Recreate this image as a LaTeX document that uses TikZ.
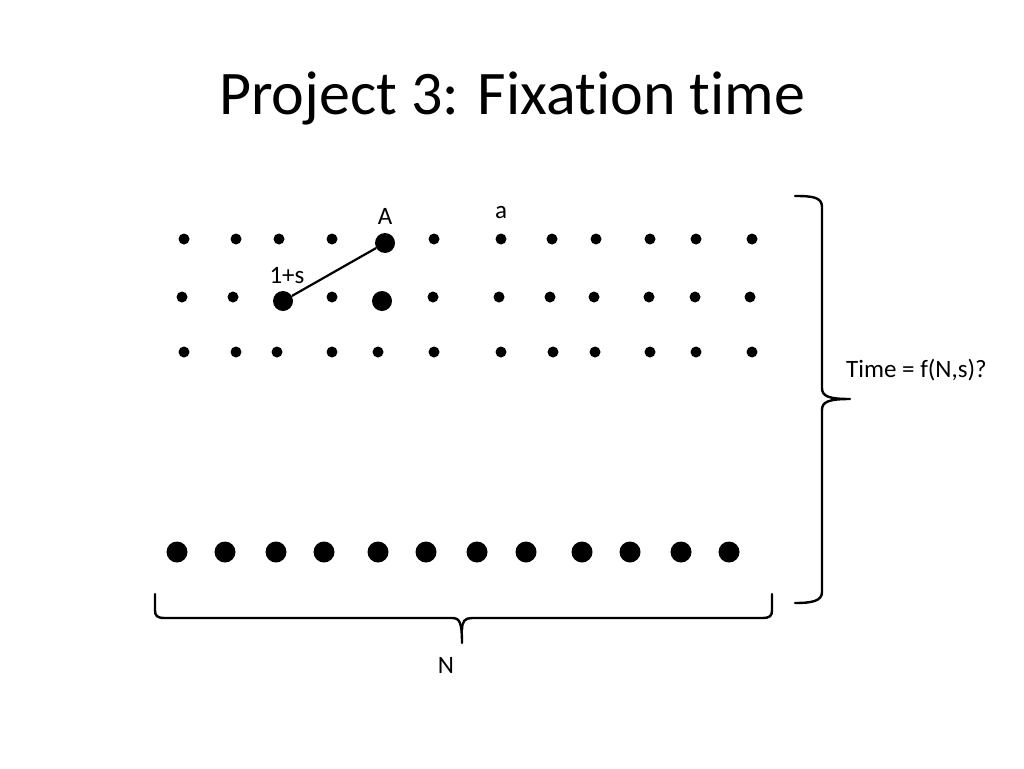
\documentclass[tikz,border=0pt]{standalone}
\usepackage{fontspec}
\setmainfont{Carlito}[Ligatures={NoCommon}]
\begin{document}
\begin{tikzpicture}[x=1pt,y=-1pt,
  sdot/.style={circle,fill=black,inner sep=0pt,minimum size=11pt},
  bdot/.style={circle,fill=black,inner sep=0pt,minimum size=20pt},
  lbl/.style={font=\fontsize{25}{29}\selectfont,inner sep=0pt},
  brace/.style={line width=2.4pt,line join=round,line cap=round}]
\useasboundingbox (0,0) rectangle (1024,768);
\node[font=\fontsize{62}{70}\selectfont,inner sep=0pt] (title) at (512,98) {Project 3: Fixation time};
% row 1
\foreach \x [count=\i] in {184,236,279,332,385,434,501,552,596,650,696,752}
  \node[sdot] (r1-\i) at (\x,239) {};
\node[bdot] (bigA) at (385,243) {};
% row 2
\foreach \x [count=\i] in {182,233,283,332,383,433,499,550,594,649,695,750}
  \node[sdot] (r2-\i) at (\x,297) {};
\node[bdot] (bigS) at (283,301) {};
\node[bdot] (bigB) at (382,301) {};
% row 3
\foreach \x [count=\i] in {184,236,277,332,378,434,501,553,595,650,696,752}
  \node[sdot] (r3-\i) at (\x,352) {};
% bottom row
\foreach \x [count=\i] in {177,225,276,324,378,426,477,526,582,630,681,729}
  \node[bdot,minimum size=21pt] (b-\i) at (\x,552) {};
\draw[line width=2.2pt] (bigS) -- (bigA);
\node[lbl] (lA) at (385,216) {A};
\node[lbl] (la) at (501,213) {a};
\node[lbl] (ls) at (287,276) {1+s};
% right brace
\draw[brace] (795,196) .. controls (812,196) and (822,197) .. (822,207)
  -- (822,388) .. controls (822,396) and (828,399) .. (850,399)
  .. controls (828,399) and (822,402) .. (822,410)
  -- (822,592) .. controls (822,601) and (812,603) .. (795,603);
\node[lbl,anchor=west] (time) at (846,370) {Time = f(N,s)?};
% bottom brace
\draw[brace] (155,594) -- (155,610) .. controls (155,616) and (157,618) .. (165,618)
  -- (452,618) .. controls (459,618) and (462,621) .. (462,643);
\draw[brace] (772,594) -- (772,610) .. controls (772,616) and (770,618) .. (762,618)
  -- (472,618) .. controls (465,618) and (462,621) .. (462,630);
\node[lbl] (N) at (446,665) {N};
\end{tikzpicture}
\end{document}
